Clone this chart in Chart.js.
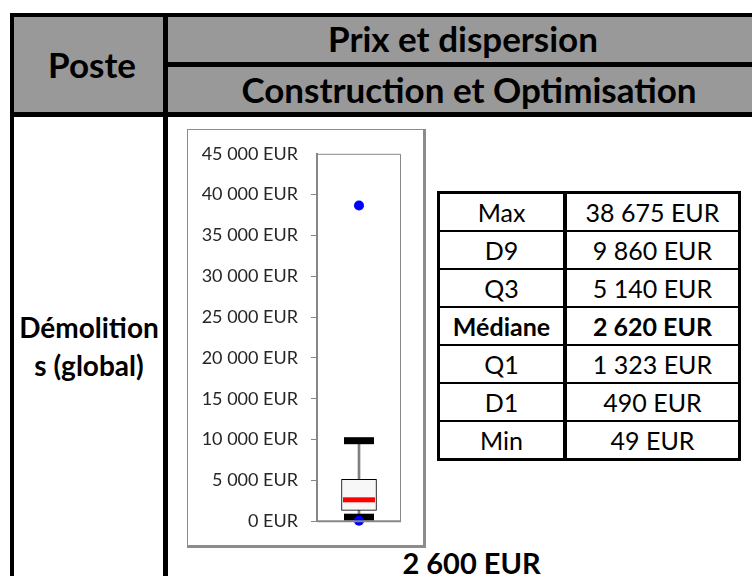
<!DOCTYPE html>
<html lang="fr">
<head>
<meta charset="utf-8">
<title>Prix et dispersion - Démolitions</title>
<script src="https://cdn.jsdelivr.net/npm/chart.js@4.4.1/dist/chart.umd.min.js"></script>
<style>
  html, body { margin: 0; padding: 0; background: #fff; }
  body { width: 752px; height: 576px; position: relative; overflow: hidden; font-family: Lato, "Open Sans", sans-serif; color: #000; }
  .rule { position: absolute; background: #000; }
  .head { position: absolute; background: #999; }
  .txt { position: absolute; white-space: nowrap; text-align: center; font-weight: bold; }
  .big { font-size: 35px; line-height: 42px; }
  #frame { position: absolute; left: 187px; top: 129px; width: 235px; height: 415px; border: solid #8c8c8c; border-width: 1px 3px 3px 1px; background: #fff; }
  #stats { position: absolute; left: 437px; top: 191px; border-collapse: collapse; font-size: 25px; }
  #stats td { border: 2px solid #000; height: 36px; padding: 0; text-align: center; line-height: 30px; }
  #stats td:first-child { width: 123px; border-right-width: 4px; border-left-width: 3px; }
  #stats td:last-child { width: 171px; border-right-width: 3px; }
  #stats tr:first-child td { border-top-width: 3px; }
  #stats tr:last-child td { border-bottom-width: 3px; }
  #stats tr.bold td { font-weight: bold; }
</style>
</head>
<body>
<!-- header cells -->
<div class="head" style="left:14px; top:17px; width:149px; height:95px;"></div>
<div class="head" style="left:168px; top:17px; width:584px; height:45px;"></div>
<div class="head" style="left:168px; top:67px; width:584px; height:45px;"></div>

<!-- table rules -->
<div class="rule" style="left:10px; top:13px; width:742px; height:4px;"></div>
<div class="rule" style="left:168px; top:62px; width:584px; height:5px;"></div>
<div class="rule" style="left:10px; top:112px; width:742px; height:5px;"></div>
<div class="rule" style="left:10px; top:13px; width:4px; height:563px;"></div>
<div class="rule" style="left:163px; top:13px; width:5px; height:563px;"></div>

<div class="txt big" id="poste" style="left:14px; width:156px; top:43px;"></div>
<div class="txt big" id="title1" style="left:168px; width:590px; top:17px;"></div>
<div class="txt big" id="title2" style="left:168px; width:602px; top:68px;"></div>
<div class="txt" id="poste-name" style="left:14px; width:150px; top:308px; font-size:28px; line-height:38px;"></div>

<div id="frame"><canvas id="boxChart" width="235" height="415"></canvas></div>

<table id="stats"></table>

<div class="txt" id="headline" style="left:380px; width:183px; top:545px; font-size:29px;"></div>

<script>
// Démolitions (global) - dispersion des prix
const posteLabel = 'Poste';
const titleLines = ['Prix et dispersion', 'Construction et Optimisation'];
const posteName = ['Démolition', 's (global)'];
const categories = ['Démolitions (global)'];

const statLabels = ['Max', 'D9', 'Q3', 'Médiane', 'Q1', 'D1', 'Min'];
const statValues = [38675, 9860, 5140, 2620, 1323, 490, 49];
const headlinePrice = 2600;

const yTicks = [0, 5000, 10000, 15000, 20000, 25000, 30000, 35000, 40000, 45000];

const stat = {};
statLabels.forEach((label, i) => { stat[label] = statValues[i]; });

function formatEur(v) {
    return String(v).replace(/\B(?=(\d{3})+(?!\d))/g, ' ') + ' EUR';
}

// Texts of the surrounding table
document.getElementById('poste').textContent = posteLabel;
document.getElementById('title1').textContent = titleLines[0];
document.getElementById('title2').textContent = titleLines[1];
document.getElementById('poste-name').innerHTML = posteName.join('<br>');
document.getElementById('headline').textContent = formatEur(headlinePrice);

const table = document.getElementById('stats');
statLabels.forEach((label, i) => {
    const tr = document.createElement('tr');
    if (label === 'Médiane') tr.className = 'bold';
    const a = document.createElement('td');
    a.textContent = label;
    const b = document.createElement('td');
    b.textContent = formatEur(statValues[i]);
    tr.appendChild(a);
    tr.appendChild(b);
    table.appendChild(tr);
});

// Frame around the plotting area
const plotFrame = {
    id: 'plotFrame',
    afterDatasetsDraw(chart) {
        const { ctx, chartArea: a } = chart;
        ctx.save();
        ctx.strokeStyle = '#878787';
        ctx.lineWidth = 1;
        ctx.beginPath();
        ctx.moveTo(a.left, a.top + 0.5);
        ctx.lineTo(a.right - 0.5, a.top + 0.5);
        ctx.lineTo(a.right - 0.5, a.bottom);
        ctx.stroke();
        ctx.lineWidth = 2;
        ctx.beginPath();
        ctx.moveTo(a.left, a.bottom);
        ctx.lineTo(a.right, a.bottom);
        ctx.stroke();
        ctx.restore();
    }
};

const x = categories[0];

new Chart(document.getElementById('boxChart'), {
    type: 'bar',
    data: {
        labels: categories,
        datasets: [
            {
                // whisker D1 -> D9
                type: 'bar',
                data: [[stat.D1, stat.D9]],
                backgroundColor: '#808080',
                barThickness: 2,
                grouped: false,
                order: 5
            },
            {
                // box Q1 -> Q3
                type: 'bar',
                data: [[stat.Q1, stat.Q3]],
                backgroundColor: '#f7f7f7',
                borderColor: '#000',
                borderWidth: 1,
                borderSkipped: false,
                barThickness: 35,
                grouped: false,
                order: 4
            },
            {
                // median
                type: 'line',
                data: [{ x: x, y: stat['Médiane'] }],
                showLine: false,
                pointStyle: 'line',
                pointRadius: 16,
                pointBorderWidth: 5,
                pointBorderColor: '#ff0000',
                clip: false,
                order: 3
            },
            {
                // whisker caps D9 / D1
                type: 'line',
                data: [{ x: x, y: stat.D9 }, { x: x, y: stat.D1 }],
                showLine: false,
                pointStyle: 'line',
                pointRadius: 15,
                pointBorderWidth: 7,
                pointBorderColor: '#000',
                clip: false,
                order: 2
            },
            {
                // extremes Min / Max
                type: 'line',
                data: [{ x: x, y: stat.Max }, { x: x, y: stat.Min }],
                showLine: false,
                pointRadius: 5,
                pointBorderWidth: 0,
                pointBackgroundColor: '#0000ff',
                clip: false,
                order: 1
            }
        ]
    },
    options: {
        responsive: false,
        devicePixelRatio: 1,
        animation: false,
        layout: { padding: { left: 0, top: 21, right: 21, bottom: 21 } },
        plugins: {
            legend: { display: false },
            tooltip: { enabled: false }
        },
        scales: {
            x: {
                display: false,
                offset: true
            },
            y: {
                min: 0,
                max: 45000,
                afterBuildTicks(scale) {
                    scale.ticks = yTicks.map(v => ({ value: v }));
                },
                afterFit(scale) {
                    scale.width = 129;
                },
                border: { color: '#878787', width: 2 },
                grid: {
                    drawOnChartArea: false,
                    drawTicks: true,
                    tickLength: 6,
                    color: ctx => ctx.tick && ctx.tick.value === 45000 ? 'rgba(0,0,0,0)' : '#878787'
                },
                ticks: {
                    padding: 13,
                    color: '#262626',
                    font: { family: 'Lato', size: 18 },
                    callback: v => formatEur(v)
                }
            }
        }
    },
    plugins: [plotFrame]
});
</script>
</body>
</html>
